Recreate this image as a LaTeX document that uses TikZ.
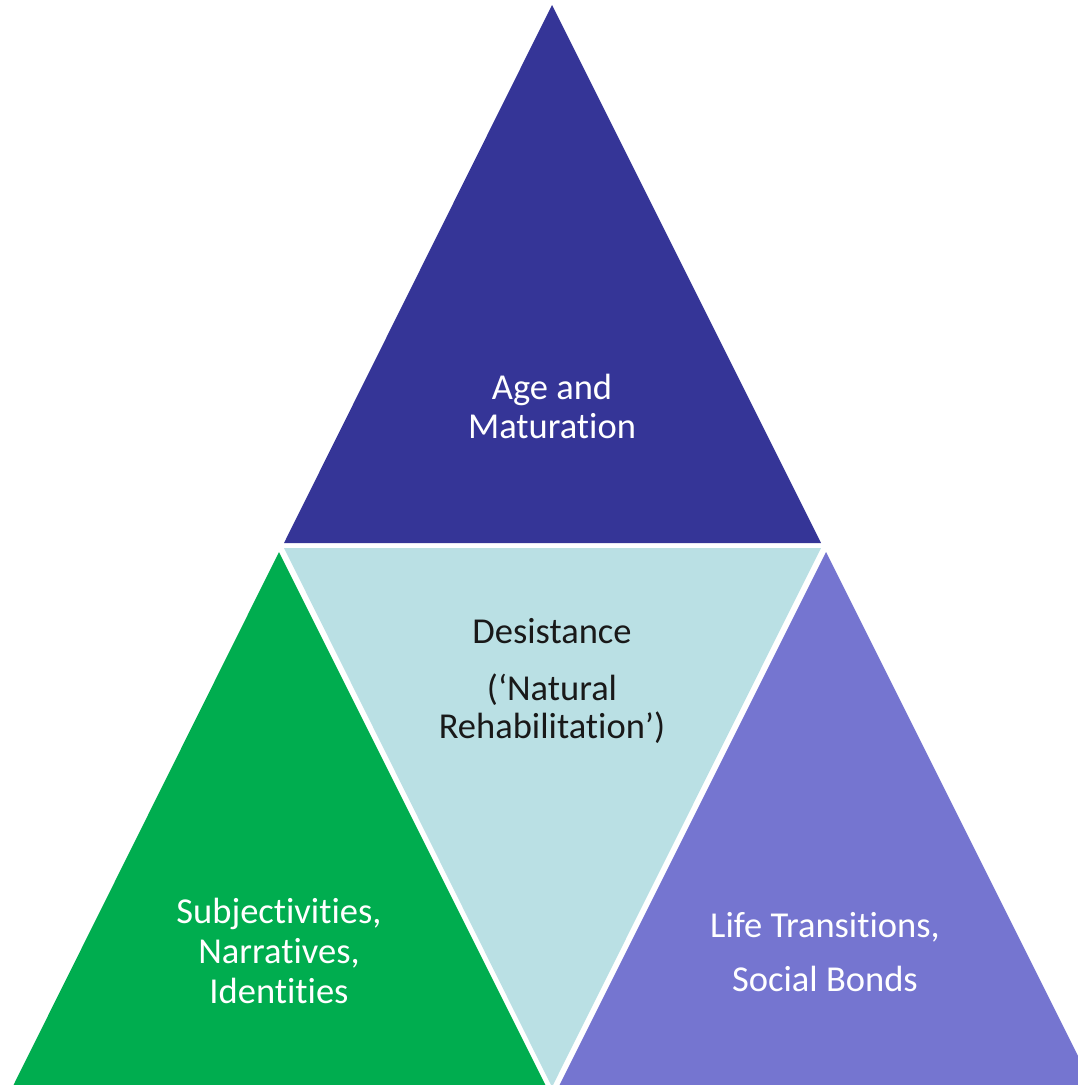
\documentclass[tikz,border=0pt]{standalone}
\usepackage{fontspec}
\setmainfont{Carlito}[Ligatures={NoCommon,NoRequired,NoContextual}]
\definecolor{topblue}{HTML}{353597}
\definecolor{midblue}{HTML}{BAE0E4}
\definecolor{leftgreen}{HTML}{00AD4F}
\definecolor{rightpurple}{HTML}{7575D0}
\tikzset{
  lbl/.style={anchor=base, inner sep=0pt, font=\fontsize{36.5}{40}\selectfont},
  wlbl/.style={lbl, text=white},
  klbl/.style={lbl, text=black!90}
}
\begin{document}
\begin{tikzpicture}[x=1pt,y=-1pt]
\useasboundingbox (0,0) rectangle (1078,1085);
\clip (0,0) rectangle (1078,1085);
\fill[topblue] (552,5) -- (284,543) -- (821,543) -- cycle;
\fill[midblue] (284,548) -- (821,548) -- (552,1087) -- cycle;
\fill[leftgreen] (279,552) -- (13,1086) -- (546,1086) -- cycle;
\fill[rightpurple] (826,552) -- (559,1086) -- (1093,1086) -- cycle;
\node[wlbl] (t1) at (552,399) {Age and};
\node[wlbl] (t2) at (552,438) {Maturation};
\node[klbl] (m1) at (552,643) {Desistance};
\node[klbl] (m2) at (552,700) {(‘Natural};
\node[klbl] (m3) at (552,738) {Rehabilitation’)};
\node[wlbl] (l1) at (279,923) {Subjectivities,};
\node[wlbl] (l2) at (279,963) {Narratives,};
\node[wlbl] (l3) at (279,1003) {Identities};
\node[wlbl] (r1) at (825,937) {Life Transitions,};
\node[wlbl] (r2) at (825,991) {Social Bonds};
\end{tikzpicture}
\end{document}
